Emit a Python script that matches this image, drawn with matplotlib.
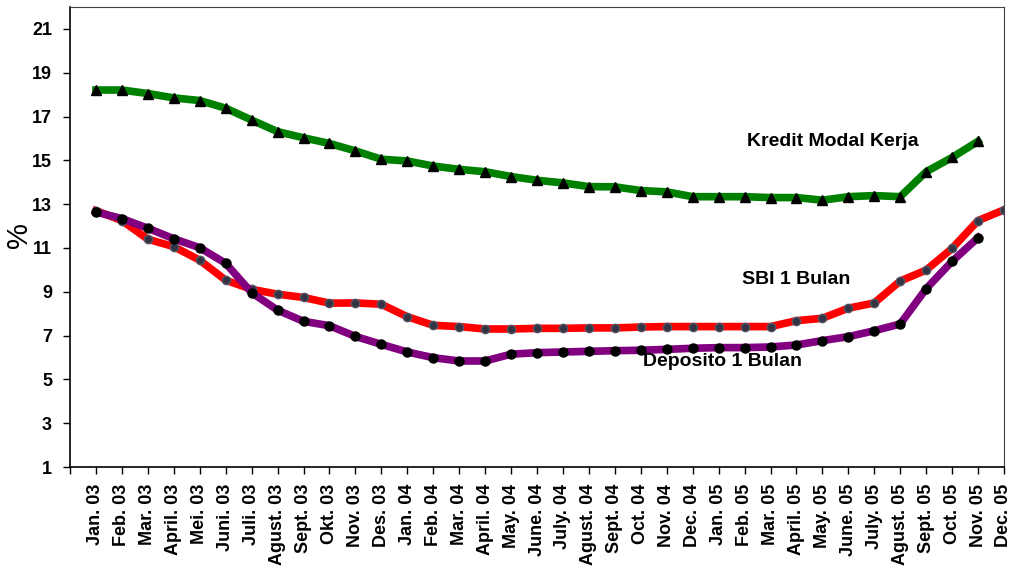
import numpy as np
import matplotlib
matplotlib.use("Agg")
import matplotlib.pyplot as plt

plt.rcParams['font.family'] = ['Liberation Sans', 'DejaVu Sans']

months = ['Jan. 03', 'Feb. 03', 'Mar. 03', 'April. 03', 'Mei. 03', 'Juni. 03',
          'Juli. 03', 'Agust. 03', 'Sept. 03', 'Okt. 03', 'Nov. 03', 'Des. 03',
          'Jan. 04', 'Feb. 04', 'Mar. 04', 'April. 04', 'May. 04', 'June. 04',
          'July. 04', 'Agust. 04', 'Sept. 04', 'Oct. 04', 'Nov. 04', 'Dec. 04',
          'Jan. 05', 'Feb. 05', 'Mar. 05', 'April. 05', 'May. 05', 'June. 05',
          'July. 05', 'Agust. 05', 'Sept. 05', 'Oct. 05', 'Nov. 05', 'Dec. 05']

# Kredit Modal Kerja (ends Nov. 05)
kmk = [18.21, 18.21, 18.05, 17.85, 17.73, 17.38, 16.84, 16.31, 16.03, 15.77,
       15.43, 15.05, 14.97, 14.74, 14.59, 14.48, 14.26, 14.09, 13.97, 13.80,
       13.79, 13.62, 13.56, 13.34, 13.34, 13.34, 13.30, 13.30, 13.18, 13.34,
       13.39, 13.34, 14.48, 15.13, 15.87]

# SBI 1 Bulan
sbi = [12.70, 12.25, 11.40, 11.06, 10.44, 9.53, 9.11, 8.89, 8.74, 8.48,
       8.49, 8.43, 7.86, 7.47, 7.41, 7.30, 7.30, 7.33, 7.33, 7.35,
       7.35, 7.39, 7.41, 7.41, 7.41, 7.41, 7.41, 7.68, 7.79, 8.25,
       8.49, 9.49, 9.99, 10.98, 12.25, 12.74]

# Deposito 1 Bulan (ends Nov. 05)
depo = [12.64, 12.34, 11.90, 11.42, 11.01, 10.30, 8.96, 8.16, 7.65, 7.45,
        6.96, 6.60, 6.25, 5.99, 5.84, 5.84, 6.15, 6.22, 6.25, 6.28,
        6.31, 6.33, 6.37, 6.42, 6.45, 6.45, 6.48, 6.57, 6.77, 6.95,
        7.22, 7.53, 9.14, 10.39, 11.47]

W, H = 1011, 568
fig = plt.figure(figsize=(W / 100, H / 100), dpi=100)
ax = fig.add_axes([70 / W, 1 - 467 / H, (1004 - 70) / W, (467 - 7) / H])

ax.plot(range(len(kmk)), kmk, color='#008000', lw=5.5, marker='^', ms=6.5,
        mfc='black', mec='black', solid_joinstyle='round')
ax.plot(range(len(sbi)), sbi, color='#ff0000', lw=5.5, marker='o', ms=6,
        mfc='#333344', mec='#555566', mew=1, solid_joinstyle='round')
ax.plot(range(len(depo)), depo, color='#800080', lw=5.5, marker='o', ms=6.5,
        mfc='black', mec='black', solid_joinstyle='round')

# series labels placed in pixel coordinates (from top of image)
lbl = dict(transform=None, fontsize=14, fontweight='bold', va='center')
ax.text(747, H - 142, 'Kredit Modal Kerja', **lbl)
ax.text(742, H - 279, 'SBI 1 Bulan', **lbl)
ax.text(643, H - 361, 'Deposito 1 Bulan', **lbl)

ax.set_xlim(-1, 35)
ax.set_ylim(1, 22)
ax.set_yticks(np.arange(1, 22, 2))
ax.set_xticks(np.arange(-1, 36))
ax.set_xticklabels([''] + months, rotation=90, fontweight='bold', fontsize=13)
for lab in ax.get_yticklabels():
    lab.set_fontweight('bold')
    lab.set_fontsize(13)
ax.tick_params(axis='x', direction='out', length=5, width=1, pad=7)
ax.tick_params(axis='y', direction='out', length=5, width=1, pad=8)
ax.set_ylabel('%', fontsize=21)
ax.yaxis.set_label_coords(-0.040, 0.504)

for s in ['left', 'bottom']:
    ax.spines[s].set_color('black')
    ax.spines[s].set_linewidth(1.2)
for s in ['top', 'right']:
    ax.spines[s].set_color('#404040')
    ax.spines[s].set_linewidth(0.8)

fig.savefig('out.png', dpi=100)
